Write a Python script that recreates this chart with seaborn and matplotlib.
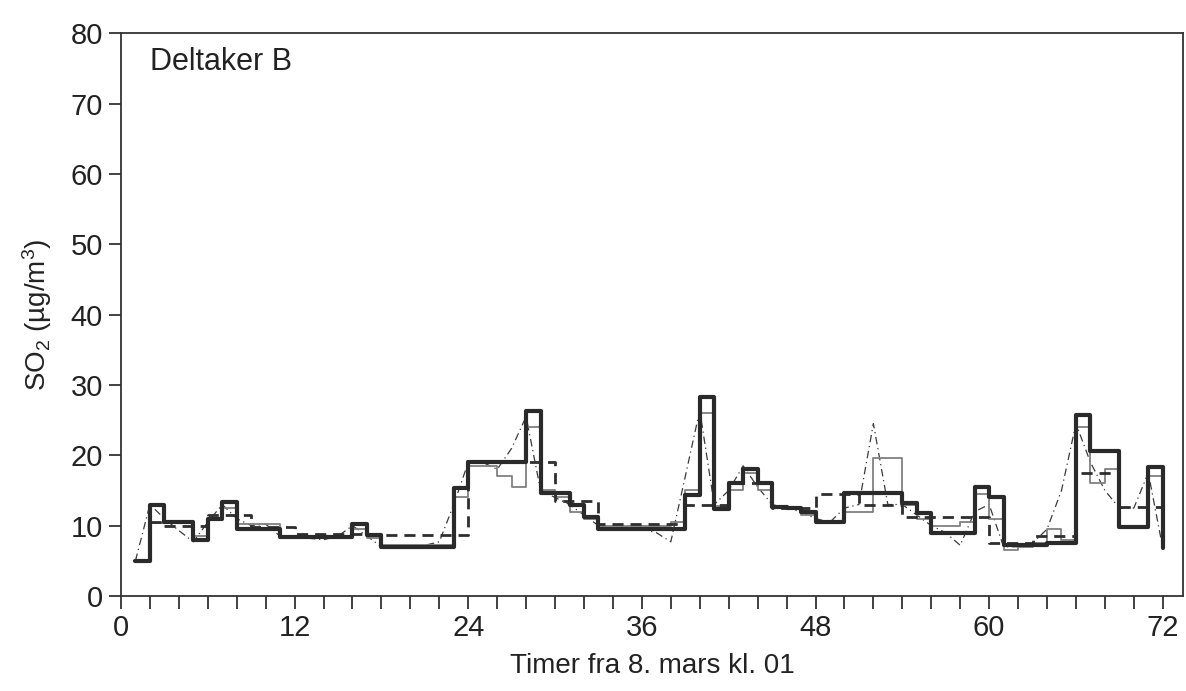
import numpy as np
import pandas as pd
import matplotlib
matplotlib.use("Agg")
import matplotlib.pyplot as plt
import seaborn as sns

# timer (start of each hourly value), 1..72
hours = list(range(1, 73))

# tykk heltrukken trapp (timesverdier)
thick = [5, 13, 10.5, 10.5, 8, 11, 13.3, 9.5, 9.5, 9.5,
         8.4, 8.4, 8.4, 8.4, 8.4, 10.2, 8.6, 7, 7, 7,
         7, 7, 15.3, 19, 19, 19, 19, 26.3, 14.7, 14.7,
         13, 11.2, 9.5, 9.5, 9.5, 9.5, 9.5, 9.5, 14.3, 28.3,
         12.4, 16, 18.1, 16, 12.7, 12.5, 12, 10.5, 10.5, 14.6,
         14.6, 14.6, 14.6, 13.2, 11.8, 8.9, 8.9, 8.9, 15.5, 14,
         7.2, 7.2, 7.2, 7.5, 7.5, 25.7, 20.6, 20.6, 9.8, 9.8,
         18.3, 6.8]

# tynn heltrukken trapp
thin = [5, 10.4, 10.4, 10.4, 8.5, 11, 12.5, 10.2, 10.2, 10.2,
        8.2, 8.2, 8.2, 8.2, 8.2, 9.5, 8.2, 7.2, 7.2, 7.2,
        7.2, 7.2, 14, 18.5, 18.5, 17, 15.5, 24, 15, 14,
        12, 11, 10, 10, 10, 10, 10, 10.5, 15, 26,
        12.8, 15, 17.5, 15, 12.5, 12.5, 11.5, 10.5, 10.5, 12,
        12, 19.6, 19.6, 13, 11, 10, 10, 10.5, 14.5, 11,
        6.5, 7, 7.5, 9.5, 8, 24, 16, 18, 10, 10,
        17, 7]

# stiplet trapp (3-timers verdier)
dash_hours = [2, 3, 6, 9, 12, 15, 18, 21, 24, 27, 30, 33, 36, 39, 42, 45,
              48, 51, 54, 57, 60, 63, 66, 69, 72]
dash_vals = [10.5, 10, 11.5, 9.8, 8.8, 8.8, 8.6, 8.6, 19, 19, 13.5, 10.3,
             10.3, 13, 16, 12.5, 14.5, 13, 11.2, 11.2, 7.5, 8.5, 17.5,
             12.7, 12.7]

# strek-prikk linje
dashdot = [5, 13, 11, 9.3, 7.7, 10.5, 13, 11, 10, 10.2,
           8.5, 8.5, 8.2, 8, 8.5, 10, 8.5, 7, 7, 7,
           7.2, 7.7, 13, 19, 19, 18, 21, 25.5, 15, 14,
           13, 11.5, 10, 9.5, 9.5, 9.5, 9, 7.7, 17, 26.4,
           13, 15, 18.5, 15.5, 13, 12.5, 12, 11, 10.5, 12.5,
           13, 24.5, 13, 13, 11.5, 10, 9, 7.2, 12, 13,
           7, 7, 7.5, 9.5, 15, 24.5, 19, 15, 12.5, 12.5,
           17.5, 6.8]

sns.set_theme(style="white")
plt.rcParams['font.family'] = ['Liberation Sans', 'DejaVu Sans']
plt.rcParams['mathtext.default'] = 'regular'

df_thick = pd.DataFrame({'time': hours, 'so2': thick})
df_thin = pd.DataFrame({'time': hours, 'so2': thin})
df_dash = pd.DataFrame({'time': dash_hours, 'so2': dash_vals})
df_dd = pd.DataFrame({'time': hours, 'so2': dashdot})

fig = plt.figure(figsize=(11.86, 6.91), dpi=100)
ax = fig.add_axes([0.102, 0.1375, 0.8955, 0.8145])

sns.lineplot(data=df_dd, x='time', y='so2', ax=ax, color='#3a3a3a',
             linewidth=0.9, linestyle=(0, (6, 3, 1, 3)))
sns.lineplot(data=df_thin, x='time', y='so2', ax=ax, color='#808080',
             linewidth=1.3, drawstyle='steps-post')
sns.lineplot(data=df_dash, x='time', y='so2', ax=ax, color='#2e2e2e',
             linewidth=2.0, drawstyle='steps-post', linestyle=(0, (4, 2.5)))
sns.lineplot(data=df_thick, x='time', y='so2', ax=ax, color='#2a2a2a',
             linewidth=3.0, drawstyle='steps-post')

ax.set_xlim(0, 73.4)
ax.set_ylim(0, 80)
ax.set_xticks(range(0, 73, 12))
ax.set_xticks(range(0, 73, 2), minor=True)
ax.set_yticks(range(0, 81, 10))
ax.tick_params(axis='both', which='major', direction='out', length=9,
               width=1.3, color='#333333', labelsize=21, labelcolor='#222222',
               bottom=True, left=True, pad=4)
ax.tick_params(axis='x', which='minor', direction='out', length=9,
               width=1.3, color='#333333', bottom=True)
for s in ax.spines.values():
    s.set_color('#333333')
    s.set_linewidth(1.3)
    s.set_visible(True)

ax.set_xlabel('Timer fra 8. mars kl. 01', fontsize=20, color='#222222', labelpad=8)
ax.set_ylabel('SO$_2$ (µg/m$^3$)', fontsize=20, color='#222222', labelpad=12)
ax.text(0.027, 0.975, 'Deltaker B', transform=ax.transAxes, fontsize=22,
        va='top', ha='left', color='#222222')

fig.savefig('out.png', dpi=100)
plt.close(fig)
